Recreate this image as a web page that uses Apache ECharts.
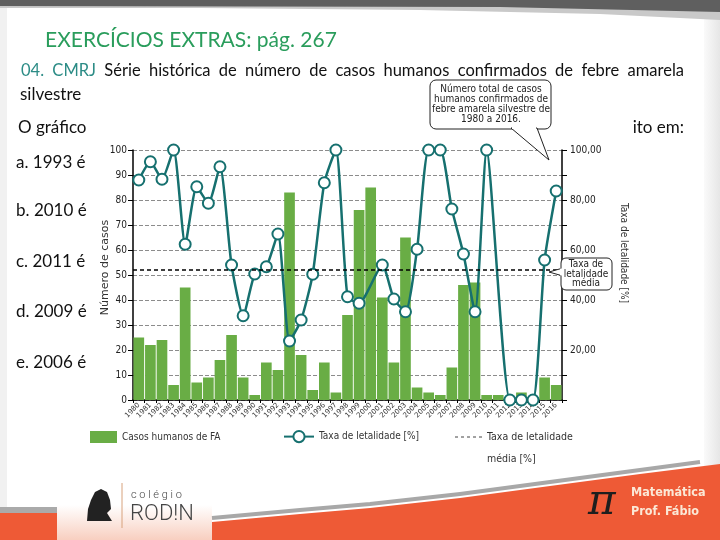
<!DOCTYPE html>
<html>
<head>
<meta charset="utf-8">
<title>Febre amarela silvestre</title>
<script src="https://cdn.jsdelivr.net/npm/echarts@6/dist/echarts.min.js"></script>
<style>
html, body { margin: 0; padding: 0; background: #fff; }
#main { width: 720px; height: 540px; }
</style>
</head>
<body>
<div id="main"></div>
<script>
// dados (1980 a 2016)
var anos = ["1980", "1981", "1982", "1983", "1984", "1985", "1986", "1987", "1988", "1989",
  "1990", "1991", "1992", "1993", "1994", "1995", "1996", "1997", "1998", "1999",
  "2000", "2001", "2002", "2003", "2004", "2005", "2006", "2007", "2008", "2009",
  "2010", "2011", "2012", "2013", "2014", "2015", "2016"];
var casos = [25, 22, 24, 6, 45, 7, 9, 16, 26, 9,
  2, 15, 12, 83, 18, 4, 15, 3, 34, 76,
  85, 41, 15, 65, 5, 3, 2, 13, 46, 47,
  2, 2, 1, 3, 1, 9, 6];
var letalidade = [88, 95.3, 88.3, 100, 62.3, 85.3, 78.7, 93.3, 54, 33.7,
  50.4, 53.3, 66.4, 23.6, 32, 50.3, 86.9, 100, 41.3, 38.7,
  null, 54, 40.4, 35.3, 60.3, 100, 100, 76.4, 58.4, 35.3,
  100, null, 0, 0, 0, 56, 83.6];
var letalidadeMedia = 52;
var rotulosTaxa = ["20,00", "40,00", "60,00", "80,00", "100,00"];

var alternativas = ["a. 1993 é", "b. 2010 é", "c. 2011 é", "d. 2009 é", "e. 2006 é"];
var linha1 = ["04.", "CMRJ", "Série", "histórica", "de", "número", "de", "casos", "humanos", "confirmados", "de", "febre", "amarela"];

var verde = "#69ad45";
var azul = "#16706f";
var laranja = "#ee5a36";
var fonteTexto = "Lato, 'Open Sans', sans-serif";
var fonteNarrow = "'Liberation Sans Narrow', 'DejaVu Sans Condensed', sans-serif";

// palavras justificadas como no slide
function linhaJustificada(words, x0, x1, y, size) {
  var ctx = document.createElement("canvas").getContext("2d");
  ctx.font = size + "px Lato";
  var ws = words.map(function (w) { return ctx.measureText(w).width; });
  var total = ws.reduce(function (a, b) { return a + b; }, 0);
  var gap = (x1 - x0 - total) / (words.length - 1);
  var x = x0, out = [];
  words.forEach(function (w, i) {
    out.push({
      type: "text", x: x, y: y,
      style: { text: w, fontSize: size, fontFamily: fonteTexto, fill: i < 2 ? "#2c8c86" : "#111", verticalAlign: "middle" }
    });
    x += ws[i] + gap;
  });
  return out;
}

var chart = echarts.init(document.getElementById("main"));

var graficos = [
  // bordas do slide
  { type: "rect", shape: { x: 0, y: 0, width: 7, height: 540 }, style: { fill: "#f1f1f1" } },
  { type: "rect", shape: { x: 704, y: 0, width: 16, height: 540 },
    style: { fill: new echarts.graphic.LinearGradient(0, 0, 1, 0, [{ offset: 0, color: "#fafafa" }, { offset: 1, color: "#e6e6e6" }]) } },
  { type: "polygon", shape: { points: [[0, 0], [720, 0], [720, 20], [600, 14], [420, 10], [200, 8], [0, 8]] }, style: { fill: "#c9c9c9" } },
  { type: "polygon", shape: { points: [[0, 0], [720, 0], [720, 12], [500, 7], [0, 6]] }, style: { fill: "#5f5f5f" } },

  // rodapé
  { type: "rect", shape: { x: 0, y: 507, width: 57, height: 6 }, style: { fill: "#aaaaaa" } },
  { type: "rect", shape: { x: 0, y: 513, width: 57, height: 27 }, style: { fill: laranja } },
  { type: "rect", shape: { x: 57, y: 505, width: 155, height: 35 },
    style: { fill: new echarts.graphic.LinearGradient(0, 0, 0, 1, [{ offset: 0, color: "#ffffff" }, { offset: 1, color: "#f8cfc0" }]) } },
  { type: "polyline", shape: { points: [[212, 518], [300, 510], [370, 504], [460, 494], [550, 482], [640, 470], [700, 462]] },
    style: { stroke: "#a8a8a8", lineWidth: 4, fill: null } },
  { type: "polygon", shape: { points: [[212, 540], [212, 522], [300, 514], [370, 508], [460, 498], [550, 486], [640, 474], [720, 464], [720, 540]] },
    style: { fill: laranja } },

  // logo colégio
  { type: "polygon", shape: { points: [[87, 521], [88, 509], [91, 500], [95, 492], [101, 489], [107, 492], [110, 500], [111, 509], [107, 513], [112, 521]] },
    style: { fill: "#222" } },
  { type: "line", shape: { x1: 122, y1: 483, x2: 122, y2: 528 }, style: { stroke: "#d7a27d", lineWidth: 1 } },
  { type: "text", x: 131, y: 495, style: { text: "c o l é g i o", fontSize: 11, fontFamily: "Roboto", fontWeight: 300, fill: "#444", verticalAlign: "middle" } },
  { type: "text", x: 130, y: 514, style: { text: "ROD!N", fontSize: 22, fontFamily: "Roboto", fontWeight: 300, fill: "#444", verticalAlign: "middle" } },
  { type: "text", x: 588, y: 503, style: { text: "π", fontSize: 42, fontFamily: "'DejaVu Serif', serif", fontStyle: "italic", fill: "#1e1e1e", verticalAlign: "middle" } },
  { type: "text", x: 631, y: 493, style: { text: "Matemática", fontSize: 12.5, fontWeight: "bold", fontFamily: fonteNarrow, fill: "#fbe8d6", verticalAlign: "middle" } },
  { type: "text", x: 631, y: 512, style: { text: "Prof. Fábio", fontSize: 12.5, fontWeight: "bold", fontFamily: fonteNarrow, fill: "#fbe8d6", verticalAlign: "middle" } },

  // textos do slide
  { type: "text", x: 45, y: 40, style: { text: "EXERCÍCIOS EXTRAS: pág. 267", fontSize: 21, fontFamily: fonteTexto, fill: "#2a9d5c", verticalAlign: "middle" } },
  { type: "text", x: 20, y: 95, style: { text: "silvestre", fontSize: 17, fontFamily: fonteTexto, fill: "#111", verticalAlign: "middle" } },
  { type: "text", x: 18, y: 128, style: { text: "O gráfico", fontSize: 17, fontFamily: fonteTexto, fill: "#111", verticalAlign: "middle" } },
  { type: "text", x: 684, y: 128, style: { text: "ito em:", fontSize: 17, fontFamily: fonteTexto, fill: "#111", align: "right", verticalAlign: "middle" } },

  // balão do total
  { type: "rect", shape: { x: 430, y: 80, width: 121, height: 49, r: 6 }, style: { fill: "#fff", stroke: "#222", lineWidth: 1 }, z: 50 },
  { type: "polygon", shape: { points: [[511, 128], [549, 160], [537, 128]] }, style: { fill: "#fff", stroke: "#222", lineWidth: 1 }, z: 50 },
  { type: "rect", shape: { x: 512, y: 126, width: 24, height: 3 }, style: { fill: "#fff" }, z: 51 },
  { type: "text", x: 491, y: 104, z: 52, style: { text: "Número total de casos\nhumanos confirmados de\nfebre amarela silvestre de\n1980 a 2016.", fontSize: 10, lineHeight: 10, fontFamily: fonteNarrow, fill: "#222", align: "center", verticalAlign: "middle" } },

  // balão da média
  { type: "polygon", shape: { points: [[563, 268], [549, 272], [563, 276]] }, style: { fill: "#fff", stroke: "#222", lineWidth: 1 }, z: 50 },
  { type: "rect", shape: { x: 561, y: 258, width: 51, height: 32, r: 5 }, style: { fill: "#fff", stroke: "#222", lineWidth: 1 }, z: 50 },
  { type: "rect", shape: { x: 560, y: 268.5, width: 3, height: 7 }, style: { fill: "#fff" }, z: 51 },
  { type: "text", x: 586, y: 274, z: 52, style: { text: "Taxa de\nletalidade\nmédia", fontSize: 10, lineHeight: 9.5, fontFamily: fonteNarrow, fill: "#222", align: "center", verticalAlign: "middle" } },

  // legenda da linha média
  { type: "line", shape: { x1: 455, y1: 437, x2: 483, y2: 437 }, style: { stroke: "#444", lineWidth: 1, lineDash: [3, 3] }, z: 10 },
  { type: "text", x: 487, y: 437, z: 10, style: { text: "Taxa de letalidade", fontSize: 10.5, fontFamily: fonteNarrow, fill: "#333", verticalAlign: "middle" } },
  { type: "text", x: 487, y: 459, z: 10, style: { text: "média [%]", fontSize: 10.5, fontFamily: fonteNarrow, fill: "#333", verticalAlign: "middle" } }
];

var yAlt = [163, 211, 262, 312, 363];
alternativas.forEach(function (t, i) {
  graficos.push({ type: "text", x: 16, y: yAlt[i], style: { text: t, fontSize: 17, fontFamily: fonteTexto, fill: "#111", verticalAlign: "middle" } });
});
graficos = graficos.concat(linhaJustificada(linha1, 21, 684, 71, 16.5));

var option = {
  animation: false,
  backgroundColor: "#fff",
  grid: { left: 133, right: 158, top: 150, bottom: 140, show: false },
  legend: [
    {
      left: 90, top: 431, padding: 0, icon: "rect", itemWidth: 27, itemHeight: 12,
      data: ["Casos humanos de FA"],
      textStyle: { fontSize: 10, fontFamily: fonteNarrow, color: "#333" }
    },
    {
      left: 283, top: 430, padding: 0, itemWidth: 30, itemHeight: 14,
      data: ["Taxa de letalidade [%]"],
      textStyle: { fontSize: 10, fontFamily: fonteNarrow, color: "#333" }
    }
  ],
  xAxis: {
    type: "category",
    data: anos,
    axisLine: { lineStyle: { color: "#000", width: 1.5 } },
    axisTick: { show: true, length: 3, lineStyle: { color: "#000" } },
    axisLabel: { interval: 0, rotate: 45, fontSize: 7, margin: 4, color: "#333", fontFamily: "'DejaVu Sans'" },
    splitLine: { show: false }
  },
  yAxis: [
    {
      type: "value", min: 0, max: 100, interval: 10, position: "left",
      name: "Número de casos", nameLocation: "middle", nameGap: 22, nameMoveOverlap: false,
      nameTextStyle: { fontSize: 11, fontFamily: "'DejaVu Sans'", color: "#333", padding: [0, 0, 0, 15] },
      axisLine: { show: true, lineStyle: { color: "#000", width: 1.5 } },
      axisTick: { show: true, length: 5, lineStyle: { color: "#000" } },
      axisLabel: { fontSize: 10, margin: 6, color: "#222", fontFamily: "'DejaVu Sans Condensed', 'DejaVu Sans'" },
      splitLine: { show: true, lineStyle: { type: "dashed", color: "#8c8c8c", width: 1 } }
    },
    {
      type: "value", min: 0, max: 100, interval: 10, position: "right",
      name: "Taxa de letalidade [%]", nameLocation: "middle", nameRotate: -90, nameGap: 57,
      nameTextStyle: { fontSize: 10, fontFamily: fonteNarrow, color: "#333", padding: [0, 44, 0, 0] },
      axisLine: { show: true, lineStyle: { color: "#000", width: 1.5 } },
      axisTick: { show: true, length: 5, lineStyle: { color: "#000" } },
      axisLabel: {
        fontSize: 10, margin: 8, color: "#222", fontFamily: "'DejaVu Sans Condensed', 'DejaVu Sans'",
        formatter: function (v) { return v > 0 && v % 20 === 0 ? rotulosTaxa[v / 20 - 1] : ""; }
      },
      splitLine: { show: false }
    }
  ],
  series: [
    {
      name: "Casos humanos de FA",
      type: "bar",
      data: casos,
      barCategoryGap: "8%",
      itemStyle: { color: verde },
      z: 2
    },
    {
      name: "Taxa de letalidade [%]",
      type: "line",
      yAxisIndex: 1,
      data: letalidade,
      connectNulls: true,
      smooth: 0.2,
      symbol: "circle",
      symbolSize: 11,
      lineStyle: { color: azul, width: 2.5 },
      itemStyle: { color: "#fff", borderColor: azul, borderWidth: 2 },
      markLine: {
        silent: true,
        symbol: "none",
        label: { show: false },
        lineStyle: { color: "#000", type: [4, 3], width: 1.5 },
        data: [{ yAxis: letalidadeMedia }]
      },
      z: 3
    }
  ],
  graphic: graficos
};

chart.setOption(option);
</script>
</body>
</html>
